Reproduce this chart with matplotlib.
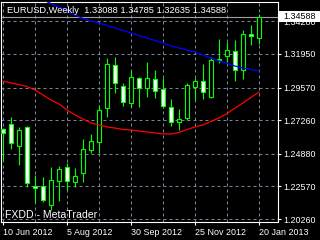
import matplotlib
matplotlib.use("Agg")
import matplotlib.pyplot as plt
from matplotlib.patches import Rectangle
from matplotlib.transforms import blended_transform_factory

# weekly EURUSD bars, 10 Jun 2012 .. 20 Jan 2013
opens = [1.2663, 1.2699, 1.2543, 1.2678, 1.2260, 1.2260, 1.2125, 1.2295, 1.2394,
         1.2288, 1.2352, 1.2515, 1.2571, 1.2812, 1.3116, 1.2968, 1.2848, 1.3024,
         1.2954, 1.3017, 1.2947, 1.2819, 1.2713, 1.2741, 1.2961, 1.3003, 1.2890,
         1.3159, 1.3180, 1.3216, 1.3081, 1.3336, 1.33088]
highs = [1.2670, 1.2748, 1.2678, 1.2685, 1.2338, 1.2324, 1.2394, 1.2401, 1.2423,
         1.2387, 1.2593, 1.2628, 1.2833, 1.3166, 1.3173, 1.2989, 1.3081, 1.3032,
         1.3138, 1.3081, 1.3024, 1.2876, 1.2805, 1.2989, 1.3024, 1.3124, 1.3173,
         1.3301, 1.3279, 1.3293, 1.3364, 1.3400, 1.34785]
lows = [1.2437, 1.2522, 1.2409, 1.2253, 1.2147, 1.2147, 1.2090, 1.2154, 1.2231,
        1.2253, 1.2288, 1.2493, 1.2493, 1.2748, 1.2918, 1.2826, 1.2819, 1.2819,
        1.2890, 1.2883, 1.2812, 1.2685, 1.2656, 1.2727, 1.2869, 1.2876, 1.2883,
        1.3131, 1.3138, 1.3003, 1.3017, 1.3258, 1.32635]
closes = [1.2635, 1.2564, 1.2656, 1.2281, 1.2246, 1.2161, 1.2302, 1.2380, 1.2295,
          1.2331, 1.2522, 1.2578, 1.2798, 1.3124, 1.2989, 1.2855, 1.3032, 1.2954,
          1.3024, 1.2932, 1.2826, 1.2713, 1.2734, 1.2975, 1.3003, 1.2925, 1.3152,
          1.3152, 1.3223, 1.3081, 1.3336, 1.3322, 1.34588]

# moving averages (blue starts at bar 4, above the top edge)
ma_blue_start = 4
ma_blue = [1.3598, 1.3577, 1.3552, 1.3527, 1.3499, 1.3470, 1.3446, 1.3428, 1.3414,
           1.3396, 1.3378, 1.3361, 1.3343, 1.3325, 1.3308, 1.3290, 1.3272, 1.3251,
           1.3237, 1.3223, 1.3209, 1.3187, 1.3166, 1.3145, 1.3127, 1.3109, 1.3095,
           1.3085, 1.3074]
ma_red = [1.3003, 1.2989, 1.2978, 1.2964, 1.2939, 1.2904, 1.2869, 1.2840, 1.2798,
          1.2763, 1.2734, 1.2706, 1.2692, 1.2678, 1.2670, 1.2660, 1.2656, 1.2649,
          1.2642, 1.2635, 1.2628, 1.2628, 1.2639, 1.2660, 1.2678, 1.2692, 1.2717,
          1.2741, 1.2773, 1.2812, 1.2848, 1.2887, 1.2925]

date_ticks = [0, 8, 16, 24, 32]
date_labels = ["10 Jun 2012", "5 Aug 2012", "30 Sep 2012", "25 Nov 2012", "20 Jan 2013"]
price_ticks = [1.20260, 1.22570, 1.24880, 1.27260, 1.29570, 1.31950, 1.34280]

GREEN = "#00ff00"
GRID = "#778899"

plt.rcParams["font.family"] = ["Liberation Sans", "DejaVu Sans"]

fig = plt.figure(figsize=(3.2, 2.4), dpi=100, facecolor="black")
ax = fig.add_axes([1 / 320, 18 / 240, 276.5 / 320, 220.5 / 240], facecolor="black")

# candles
for i in range(len(opens)):
    o, h, l, c = opens[i], highs[i], lows[i], closes[i]
    ax.vlines(i, l, h, color=GREEN, lw=0.8, zorder=3)
    face = "black" if c >= o else "white"
    ax.add_patch(Rectangle((i - 0.28, min(o, c)), 0.56, abs(c - o),
                           facecolor=face, edgecolor=GREEN, lw=0.8, zorder=4))

xb = list(range(ma_blue_start, ma_blue_start + len(ma_blue)))
ax.plot(xb, ma_blue, color="#0000ff", lw=0.9, zorder=5)
ax.plot(range(len(ma_red)), ma_red, color="#ff0000", lw=0.9, zorder=5)

# bid line
ax.axhline(closes[-1], color="#a0a0a0", lw=0.8, zorder=2)

ax.set_xlim(-0.25, 34.31)
ax.set_ylim(1.20048, 1.35661)

ax.set_xticks(date_ticks)
ax.set_xticklabels(date_labels)
ax.set_xticks(range(4, 33, 8), minor=True)
ax.set_yticks(price_ticks)
ax.set_yticklabels([f"{p:.5f}" for p in price_ticks])
ax.yaxis.tick_right()

ax.grid(True, which="both", color=GRID, lw=0.72, linestyle=(0, (3, 3)), zorder=1)
ax.tick_params(axis="both", which="major", colors="white", labelsize=6.4,
               length=2.2, width=0.8, pad=2.0)
ax.tick_params(axis="x", which="minor", length=0)
for lab in ax.get_xticklabels():
    lab.set_horizontalalignment("left")
for sp in ax.spines.values():
    sp.set_color("white")
    sp.set_linewidth(0.8)

# title and watermark
title = f"EURUSD,Weekly  {opens[-1]:.5f} {highs[-1]:.5f} {lows[-1]:.5f} {closes[-1]:.5f}"
fig.text(7 / 320, 1 - 10.5 / 240, title, color="white", fontsize=6.7, va="center")
fig.text(5 / 320, 1 - 215 / 240, "FXDD - MetaTrader", color="white", fontsize=7.6, va="center")

# current price box on the right
tr = blended_transform_factory(fig.transFigure, ax.transData)
box = Rectangle((278 / 320, closes[-1] - 0.0039), 42 / 320, 0.0078, transform=tr,
                facecolor="white", edgecolor="none", zorder=10)
fig.add_artist(box)
fig.text(283 / 320, closes[-1], f"{closes[-1]:.5f}", transform=tr, color="black",
         fontsize=6.4, va="center", zorder=11)

fig.savefig("out.png", dpi=100, facecolor="black")
